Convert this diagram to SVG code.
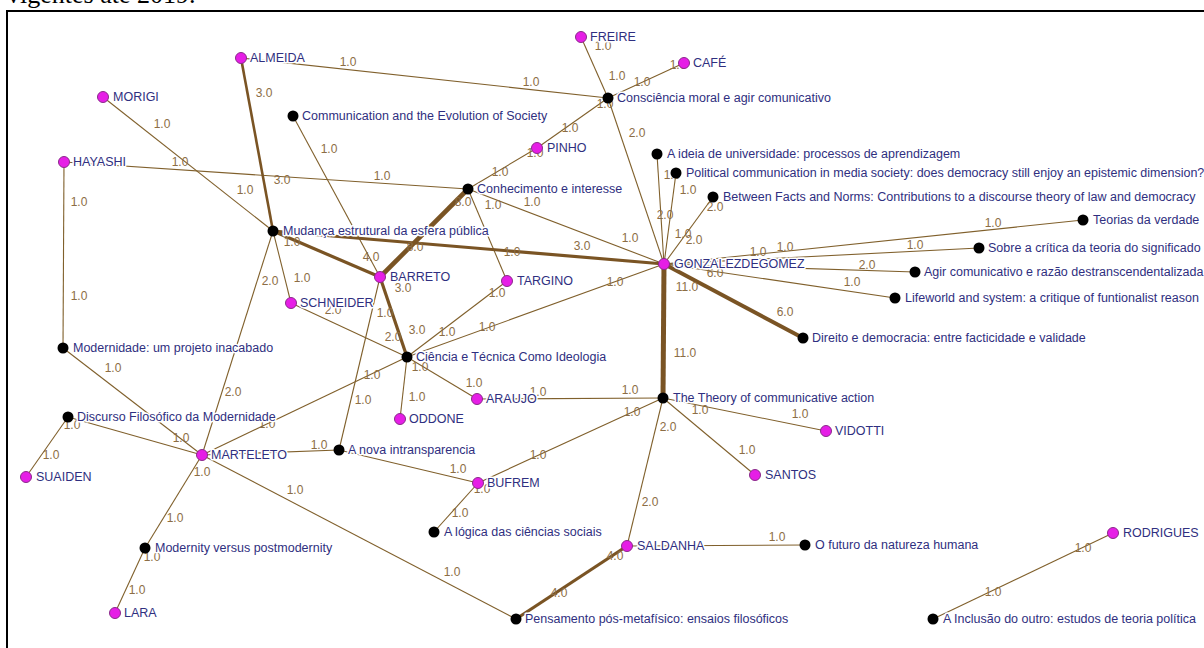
<svg xmlns="http://www.w3.org/2000/svg" width="1204" height="648" viewBox="0 0 1204 648">
<style>
.e{stroke:#80602c;stroke-width:1.1;fill:none}
.t3{stroke:#7a5424;stroke-width:2.6}
.t4{stroke:#7a5424;stroke-width:3.2}
.t6{stroke:#7a5424;stroke-width:4}
.t8{stroke:#7a5424;stroke-width:4.6}
.t11{stroke:#7a5424;stroke-width:5}
.w{font-family:"Liberation Sans",Arial,sans-serif;font-size:12px;fill:#8c6d45;text-anchor:middle}
.m circle{fill:#e61ee6;stroke:#8a2a8a;stroke-width:1}
.b circle{fill:#000}
.n text{font-family:"Liberation Sans",Arial,sans-serif;font-size:12.5px;fill:#2f2f80;stroke:#fff;stroke-width:3;paint-order:stroke;stroke-linejoin:round}
</style>
<rect width="1204" height="648" fill="#fff"/>
<text x="7" y="3" font-family="Liberation Serif,serif" font-size="26" fill="#000">vigentes até 2019.</text>
<path d="M7,648 V11 H1204" fill="none" stroke="#000" stroke-width="2"/>
<g id="connectors">
<line class="e" x1="241" y1="58" x2="608" y2="98"/>
<line class="e" x1="103" y1="97" x2="273" y2="231"/>
<line class="e" x1="64" y1="162" x2="468" y2="189"/>
<line class="e" x1="64" y1="162" x2="63" y2="348"/>
<line class="e" x1="293" y1="116" x2="380" y2="277"/>
<line class="e" x1="581" y1="37" x2="608" y2="98"/>
<line class="e" x1="684" y1="63" x2="608" y2="98"/>
<line class="e" x1="537" y1="148" x2="608" y2="98"/>
<line class="e" x1="537" y1="148" x2="468" y2="189"/>
<line class="e" x1="608" y1="98" x2="664" y2="264"/>
<line class="e" x1="657" y1="154" x2="664" y2="264"/>
<line class="e" x1="676" y1="173" x2="664" y2="264"/>
<line class="e" x1="713" y1="197" x2="664" y2="264"/>
<line class="e" x1="468" y1="189" x2="664" y2="264"/>
<line class="e" x1="468" y1="189" x2="507" y2="281"/>
<line class="e" x1="273" y1="231" x2="291" y2="303"/>
<line class="e" x1="273" y1="231" x2="202" y2="455"/>
<line class="e" x1="380" y1="277" x2="339" y2="450"/>
<line class="e" x1="291" y1="303" x2="407" y2="357"/>
<line class="e" x1="407" y1="357" x2="507" y2="281"/>
<line class="e" x1="407" y1="357" x2="664" y2="264"/>
<line class="e" x1="407" y1="357" x2="477" y2="399"/>
<line class="e" x1="407" y1="357" x2="400" y2="419"/>
<line class="e" x1="407" y1="357" x2="202" y2="455"/>
<line class="e" x1="477" y1="399" x2="663" y2="398"/>
<line class="e" x1="664" y1="264" x2="1083" y2="220"/>
<line class="e" x1="664" y1="264" x2="979" y2="248"/>
<line class="e" x1="664" y1="264" x2="915" y2="272"/>
<line class="e" x1="664" y1="264" x2="895" y2="298"/>
<line class="e" x1="663" y1="398" x2="826" y2="431"/>
<line class="e" x1="663" y1="398" x2="755" y2="475"/>
<line class="e" x1="663" y1="398" x2="478" y2="483"/>
<line class="e" x1="663" y1="398" x2="627" y2="546"/>
<line class="e" x1="63" y1="348" x2="202" y2="455"/>
<line class="e" x1="68" y1="417" x2="202" y2="455"/>
<line class="e" x1="68" y1="417" x2="26" y2="477"/>
<line class="e" x1="202" y1="455" x2="339" y2="450"/>
<line class="e" x1="202" y1="455" x2="145" y2="548"/>
<line class="e" x1="145" y1="548" x2="115" y2="613"/>
<line class="e" x1="202" y1="455" x2="516" y2="619"/>
<line class="e" x1="339" y1="450" x2="478" y2="483"/>
<line class="e" x1="478" y1="483" x2="434" y2="532"/>
<line class="e" x1="627" y1="546" x2="805" y2="545"/>
<line class="e" x1="1113" y1="533" x2="933" y2="619"/>
<line class="e t3" x1="241" y1="58" x2="273" y2="231"/>
<line class="e t4" x1="273" y1="231" x2="664" y2="264"/>
<line class="e t4" x1="273" y1="231" x2="380" y2="277"/>
<line class="e t8" x1="468" y1="189" x2="380" y2="277"/>
<line class="e t4" x1="380" y1="277" x2="407" y2="357"/>
<line class="e t11" x1="664" y1="264" x2="663" y2="398"/>
<line class="e t6" x1="664" y1="264" x2="803" y2="338"/>
<line class="e t4" x1="627" y1="546" x2="516" y2="619"/>
</g>
<g id="edge-labels" class="w">
<text x="348" y="66">1.0</text>
<text x="531" y="86">1.0</text>
<text x="264" y="97">3.0</text>
<text x="162" y="128">1.0</text>
<text x="180" y="166">1.0</text>
<text x="282" y="184">3.0</text>
<text x="382" y="180">1.0</text>
<text x="329" y="153">1.0</text>
<text x="245" y="194">1.0</text>
<text x="79" y="206">1.0</text>
<text x="79" y="300">1.0</text>
<text x="603" y="50">1.0</text>
<text x="617" y="80">1.0</text>
<text x="642" y="86">1.0</text>
<text x="678" y="69">1.0</text>
<text x="570" y="132">1.0</text>
<text x="605" y="108">1.0</text>
<text x="535" y="157">1.0</text>
<text x="500" y="176">1.0</text>
<text x="637" y="137">2.0</text>
<text x="672" y="179">1.0</text>
<text x="688" y="194">1.0</text>
<text x="715" y="211">2.0</text>
<text x="665" y="219">2.0</text>
<text x="683" y="238">1.0</text>
<text x="694" y="244">2.0</text>
<text x="463" y="206">8.0</text>
<text x="493" y="209">1.0</text>
<text x="532" y="206">1.0</text>
<text x="292" y="246">1.0</text>
<text x="415" y="251">8.0</text>
<text x="371" y="261">4.0</text>
<text x="403" y="292">3.0</text>
<text x="512" y="256">1.0</text>
<text x="582" y="250">3.0</text>
<text x="630" y="242">1.0</text>
<text x="302" y="282">1.0</text>
<text x="270" y="285">2.0</text>
<text x="333" y="314">2.0</text>
<text x="385" y="317">1.0</text>
<text x="393" y="341">2.0</text>
<text x="417" y="334">3.0</text>
<text x="447" y="336">1.0</text>
<text x="487" y="331">1.0</text>
<text x="497" y="297">1.0</text>
<text x="615" y="286">1.0</text>
<text x="372" y="379">1.0</text>
<text x="363" y="404">1.0</text>
<text x="417" y="401">1.0</text>
<text x="420" y="371">1.0</text>
<text x="474" y="387">1.0</text>
<text x="687" y="291">11.0</text>
<text x="685" y="357">11.0</text>
<text x="715" y="277">6.0</text>
<text x="785" y="316">6.0</text>
<text x="785" y="251">1.0</text>
<text x="758" y="256">1.0</text>
<text x="993" y="227">1.0</text>
<text x="915" y="249">1.0</text>
<text x="867" y="269">2.0</text>
<text x="852" y="286">1.0</text>
<text x="538" y="396">1.0</text>
<text x="630" y="394">1.0</text>
<text x="632" y="416">1.0</text>
<text x="668" y="431">2.0</text>
<text x="700" y="414">1.0</text>
<text x="800" y="418">1.0</text>
<text x="747" y="454">1.0</text>
<text x="538" y="459">1.0</text>
<text x="458" y="473">1.0</text>
<text x="482" y="493">1.0</text>
<text x="460" y="517">1.0</text>
<text x="650" y="506">2.0</text>
<text x="777" y="541">1.0</text>
<text x="615" y="560">4.0</text>
<text x="559" y="597">4.0</text>
<text x="452" y="576">1.0</text>
<text x="295" y="494">1.0</text>
<text x="319" y="449">1.0</text>
<text x="202" y="476">1.0</text>
<text x="175" y="522">1.0</text>
<text x="152" y="561">1.0</text>
<text x="137" y="594">1.0</text>
<text x="51" y="459">1.0</text>
<text x="72" y="429">1.0</text>
<text x="113" y="372">1.0</text>
<text x="233" y="396">2.0</text>
<text x="181" y="442">1.0</text>
<text x="267" y="428">1.0</text>
<text x="1083" y="552">1.0</text>
<text x="993" y="596">1.0</text>
</g>
<g id="ALMEIDA" class="n m"><circle cx="241" cy="58" r="5.5"/><text x="250" y="62">ALMEIDA</text></g>
<g id="MORIGI" class="n m"><circle cx="103" cy="97" r="5.5"/><text x="113" y="101">MORIGI</text></g>
<g id="HAYASHI" class="n m"><circle cx="64" cy="162" r="5.5"/><text x="73" y="166">HAYASHI</text></g>
<g id="COMMUNICATION" class="n b"><circle cx="293" cy="116" r="5.5"/><text x="302" y="120">Communication and the Evolution of Society</text></g>
<g id="FREIRE" class="n m"><circle cx="581" cy="37" r="5.5"/><text x="590" y="41">FREIRE</text></g>
<g id="CAFE" class="n m"><circle cx="684" cy="63" r="5.5"/><text x="693" y="67">CAFÉ</text></g>
<g id="CONSCIENCIA" class="n b"><circle cx="608" cy="98" r="5.5"/><text x="617" y="102">Consciência moral e agir comunicativo</text></g>
<g id="PINHO" class="n m"><circle cx="537" cy="148" r="5.5"/><text x="547" y="152">PINHO</text></g>
<g id="CONHECIMENTO" class="n b"><circle cx="468" cy="189" r="5.5"/><text x="477" y="193">Conhecimento e interesse</text></g>
<g id="IDEIA" class="n b"><circle cx="657" cy="154" r="5.5"/><text x="667" y="158">A ideia de universidade: processos de aprendizagem</text></g>
<g id="POLITICAL" class="n b"><circle cx="676" cy="173" r="5.5"/><text x="686" y="177">Political communication in media society: does democracy still enjoy an epistemic dimension?</text></g>
<g id="BETWEEN" class="n b"><circle cx="713" cy="197" r="5.5"/><text x="723" y="201">Between Facts and Norms: Contributions to a discourse theory of law and democracy</text></g>
<g id="TEORIAS" class="n b"><circle cx="1083" cy="220" r="5.5"/><text x="1093" y="224">Teorias da verdade</text></g>
<g id="SOBRE" class="n b"><circle cx="979" cy="248" r="5.5"/><text x="988" y="252">Sobre a crítica da teoria do significado</text></g>
<g id="AGIR" class="n b"><circle cx="915" cy="272" r="5.5"/><text x="924" y="276">Agir comunicativo e razão destranscendentalizada</text></g>
<g id="LIFEWORLD" class="n b"><circle cx="895" cy="298" r="5.5"/><text x="905" y="302">Lifeworld and system: a critique of funtionalist reason</text></g>
<g id="DIREITO" class="n b"><circle cx="803" cy="338" r="5.5"/><text x="812" y="342">Direito e democracia: entre facticidade e validade</text></g>
<g id="GONZALEZDEGOMEZ" class="n m"><circle cx="664" cy="264" r="5.5"/><text x="674" y="268">GONZALEZDEGOMEZ</text></g>
<g id="MUDANCA" class="n b"><circle cx="273" cy="231" r="5.5"/><text x="283" y="235">Mudança estrutural da esfera pública</text></g>
<g id="BARRETO" class="n m"><circle cx="380" cy="277" r="5.5"/><text x="390" y="281">BARRETO</text></g>
<g id="TARGINO" class="n m"><circle cx="507" cy="281" r="5.5"/><text x="517" y="285">TARGINO</text></g>
<g id="SCHNEIDER" class="n m"><circle cx="291" cy="303" r="5.5"/><text x="300" y="307">SCHNEIDER</text></g>
<g id="MODERNIDADE" class="n b"><circle cx="63" cy="348" r="5.5"/><text x="73" y="352">Modernidade: um projeto inacabado</text></g>
<g id="DISCURSO" class="n b"><circle cx="68" cy="417" r="5.5"/><text x="77" y="421">Discurso Filosófico da Modernidade</text></g>
<g id="CIENCIA" class="n b"><circle cx="407" cy="357" r="5.5"/><text x="416" y="361">Ciência e Técnica Como Ideologia</text></g>
<g id="ARAUJO" class="n m"><circle cx="477" cy="399" r="5.5"/><text x="486" y="403">ARAUJO</text></g>
<g id="ODDONE" class="n m"><circle cx="400" cy="419" r="5.5"/><text x="409" y="423">ODDONE</text></g>
<g id="THEORY" class="n b"><circle cx="663" cy="398" r="5.5"/><text x="673" y="402">The Theory of communicative action</text></g>
<g id="VIDOTTI" class="n m"><circle cx="826" cy="431" r="5.5"/><text x="835" y="435">VIDOTTI</text></g>
<g id="SANTOS" class="n m"><circle cx="755" cy="475" r="5.5"/><text x="765" y="479">SANTOS</text></g>
<g id="MARTELETO" class="n m"><circle cx="202" cy="455" r="5.5"/><text x="211" y="459">MARTELETO</text></g>
<g id="ANOVA" class="n b"><circle cx="339" cy="450" r="5.5"/><text x="348" y="454">A nova intransparencia</text></g>
<g id="SUAIDEN" class="n m"><circle cx="26" cy="477" r="5.5"/><text x="36" y="481">SUAIDEN</text></g>
<g id="MODERNITY" class="n b"><circle cx="145" cy="548" r="5.5"/><text x="155" y="552">Modernity versus postmodernity</text></g>
<g id="LARA" class="n m"><circle cx="115" cy="613" r="5.5"/><text x="124" y="617">LARA</text></g>
<g id="BUFREM" class="n m"><circle cx="478" cy="483" r="5.5"/><text x="487" y="487">BUFREM</text></g>
<g id="ALOGICA" class="n b"><circle cx="434" cy="532" r="5.5"/><text x="444" y="536">A lógica das ciências sociais</text></g>
<g id="SALDANHA" class="n m"><circle cx="627" cy="546" r="5.5"/><text x="637" y="550">SALDANHA</text></g>
<g id="PENSAMENTO" class="n b"><circle cx="516" cy="619" r="5.5"/><text x="525" y="623">Pensamento pós-metafísico: ensaios filosóficos</text></g>
<g id="OFUTURO" class="n b"><circle cx="805" cy="545" r="5.5"/><text x="815" y="549">O futuro da natureza humana</text></g>
<g id="RODRIGUES" class="n m"><circle cx="1113" cy="533" r="5.5"/><text x="1123" y="537">RODRIGUES</text></g>
<g id="AINCLUSAO" class="n b"><circle cx="933" cy="619" r="5.5"/><text x="943" y="623">A Inclusão do outro: estudos de teoria política</text></g>
</svg>
